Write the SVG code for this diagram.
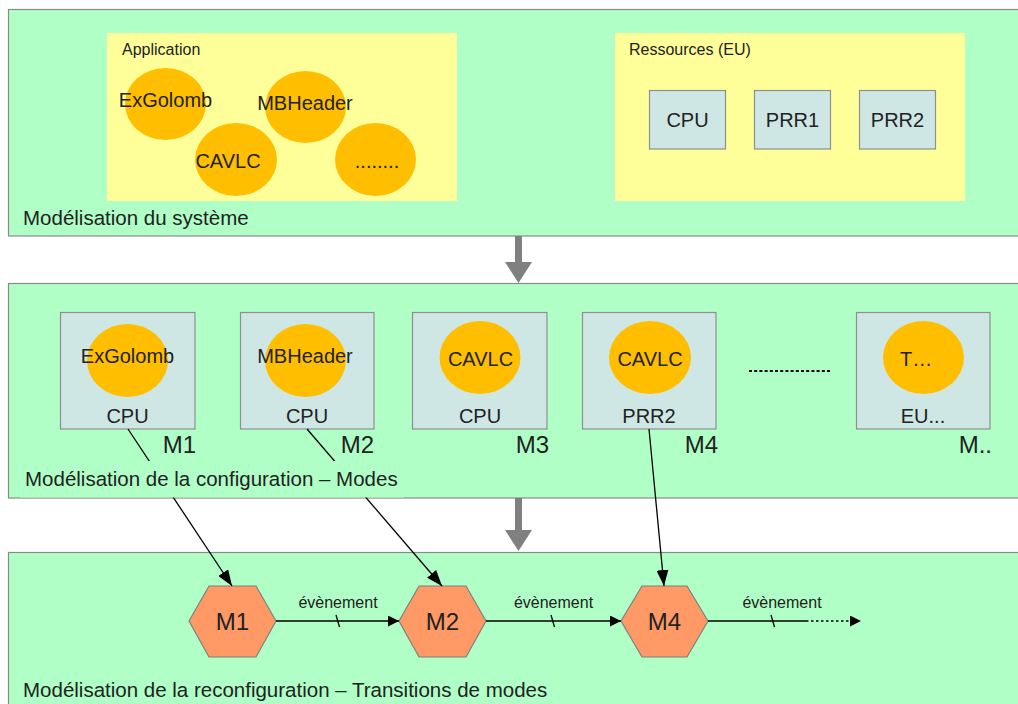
<svg xmlns="http://www.w3.org/2000/svg" width="1018" height="704" viewBox="0 0 1018 704">
<defs>
<style>
.panel{fill:#b0ffc6;stroke:#8a8a8a;stroke-width:1.2}
.zone{fill:#ffff99}
.eu{fill:#cfe7e4;stroke:#8f8f8f;stroke-width:1.2}
.task{fill:#ffbf00}
.hex{fill:#ff9966;stroke:#7f7f7f;stroke-width:1.2}
.t{font-family:"Liberation Sans",Arial,sans-serif;fill:#222}
.s16{font-size:16px}
.s20{font-size:20px}
.s205{font-size:20.5px}
.s24{font-size:24px}
.mid{text-anchor:middle}
.end{text-anchor:end}
.ln{stroke:#000;stroke-width:1.3;fill:none}
.big{fill:#808080}
</style>
<marker id="ah" viewBox="0 0 16 12" refX="16" refY="6" markerWidth="16" markerHeight="12" markerUnits="userSpaceOnUse" orient="auto">
<path d="M0,0 L16,6 L0,12 Z" fill="#000"/>
</marker>
<marker id="ahs" viewBox="0 0 11 11" refX="11" refY="5.5" markerWidth="11" markerHeight="11" markerUnits="userSpaceOnUse" orient="auto">
<path d="M0,0 L11,5.5 L0,11 Z" fill="#000"/>
</marker>
</defs>

<rect width="1018" height="704" fill="#ffffff"/>

<g id="panel-systeme">
<rect class="panel" x="8.5" y="9.5" width="1030" height="226.5"/>
<text class="t s205" x="23" y="225">Modélisation du système</text>
</g>

<g id="application">
<rect class="zone" x="107" y="33" width="350" height="168"/>
<text class="t s16" x="122" y="55">Application</text>
</g>
<g id="task-exgolomb">
<ellipse class="task" cx="165.5" cy="104" rx="40.5" ry="36"/>
<text class="t s20 mid" x="165.5" y="107">ExGolomb</text>
</g>
<g id="task-mbheader">
<ellipse class="task" cx="305.5" cy="107" rx="40.5" ry="36"/>
<text class="t s20 mid" x="305" y="110">MBHeader</text>
</g>
<g id="task-cavlc">
<ellipse class="task" cx="236" cy="159.5" rx="41" ry="36.5"/>
<text class="t s20 mid" x="228" y="168">CAVLC</text>
</g>
<g id="task-more">
<ellipse class="task" cx="375.5" cy="159.5" rx="40.5" ry="36.5"/>
<text class="t s20 mid" x="377" y="168">........</text>
</g>

<g id="ressources">
<rect class="zone" x="615" y="33" width="350" height="168"/>
<text class="t s16" x="629" y="55">Ressources (EU)</text>
</g>
<g id="eu-cpu">
<rect class="eu" x="649.5" y="90.5" width="76" height="58.5"/>
<text class="t s20 mid" x="687.5" y="127">CPU</text>
</g>
<g id="eu-prr1">
<rect class="eu" x="754.5" y="90.5" width="76" height="58.5"/>
<text class="t s20 mid" x="792.5" y="127">PRR1</text>
</g>
<g id="eu-prr2">
<rect class="eu" x="859.5" y="90.5" width="76" height="58.5"/>
<text class="t s20 mid" x="897.5" y="127">PRR2</text>
</g>

<g id="arrow-1">
<polygon class="big" points="515,236 522,236 522,262 532,262 518.5,283 505,262 515,262"/>
</g>

<g id="panel-configuration">
<rect class="panel" x="8.5" y="283.5" width="1030" height="214.5"/>
</g>

<g id="mode-m1">
<rect class="eu" x="60.5" y="312.5" width="134.5" height="116.5"/>
<ellipse class="task" cx="127.5" cy="360.5" rx="40.5" ry="36.5"/>
<text class="t s20 mid" x="127.5" y="363">ExGolomb</text>
<text class="t s20 mid" x="127.5" y="423">CPU</text>
<text class="t s24 end" x="196" y="453">M1</text>
</g>
<g id="mode-m2">
<rect class="eu" x="240.5" y="312.5" width="133.5" height="116.5"/>
<ellipse class="task" cx="305.5" cy="360.5" rx="40.5" ry="36.5"/>
<text class="t s20 mid" x="305" y="363">MBHeader</text>
<text class="t s20 mid" x="307" y="423">CPU</text>
<text class="t s24 end" x="374" y="453">M2</text>
</g>
<g id="mode-m3">
<rect class="eu" x="412.5" y="312.5" width="134.5" height="116.5"/>
<ellipse class="task" cx="480" cy="357.5" rx="40.5" ry="36.5"/>
<text class="t s20 mid" x="480.5" y="366">CAVLC</text>
<text class="t s20 mid" x="480" y="423">CPU</text>
<text class="t s24 end" x="549" y="453">M3</text>
</g>
<g id="mode-m4">
<rect class="eu" x="582.5" y="312.5" width="133.5" height="116.5"/>
<ellipse class="task" cx="650" cy="357.5" rx="41" ry="36.5"/>
<text class="t s20 mid" x="650" y="366">CAVLC</text>
<text class="t s20 mid" x="649" y="423">PRR2</text>
<text class="t s24 end" x="718" y="453">M4</text>
</g>
<g id="mode-dots">
<line x1="749" y1="371" x2="831" y2="371" stroke="#000" stroke-width="2" stroke-dasharray="3,2.2"/>
</g>
<g id="mode-mn">
<rect class="eu" x="856.5" y="312.5" width="133.5" height="116.5"/>
<ellipse class="task" cx="923.5" cy="357.5" rx="40.5" ry="36.5"/>
<text class="t s20" x="900" y="366">T…</text>
<text class="t s20 mid" x="923" y="423">EU...</text>
<text class="t s24 end" x="992" y="453">M..</text>
</g>

<g id="arrow-2">
<polygon class="big" points="515,498 522,498 522,530 532,530 518.5,551 505,530 515,530"/>
</g>

<g id="panel-reconfiguration">
<rect class="panel" x="8.5" y="552.5" width="1030" height="170"/>
<text class="t s205" x="23" y="697">Modélisation de la reconfiguration – Transitions de modes</text>
</g>

<g id="state-m1">
<polygon class="hex" points="189,621 209,586 256,586 276,621 256,657 209,657"/>
<text class="t s24 mid" x="232.5" y="630">M1</text>
</g>
<g id="state-m2">
<polygon class="hex" points="399,621 419,586 466,586 486,621 466,657 419,657"/>
<text class="t s24 mid" x="442.5" y="630">M2</text>
</g>
<g id="state-m4">
<polygon class="hex" points="621,621 642,586 687,586 708,621 687,657 642,657"/>
<text class="t s24 mid" x="664.5" y="630">M4</text>
</g>

<g id="connectors">
<line class="ln" x1="128" y1="429" x2="232" y2="586" marker-end="url(#ah)"/>
<line class="ln" x1="307" y1="429" x2="442" y2="586" marker-end="url(#ah)"/>
<line class="ln" x1="649" y1="429" x2="664" y2="586" marker-end="url(#ah)"/>
<line class="ln" x1="276" y1="621" x2="399" y2="621" marker-end="url(#ahs)"/>
<line class="ln" x1="336" y1="615" x2="339.5" y2="627"/>
<text class="t s16 mid" x="338" y="608">évènement</text>
<line class="ln" x1="486" y1="621" x2="621" y2="621" marker-end="url(#ahs)"/>
<line class="ln" x1="551" y1="615" x2="554.5" y2="627"/>
<text class="t s16 mid" x="553.5" y="608">évènement</text>
<line class="ln" x1="708" y1="621" x2="806" y2="621"/>
<line x1="806" y1="621" x2="861" y2="621" stroke="#000" stroke-width="1.6" stroke-dasharray="2.5,2.5" marker-end="url(#ahs)"/>
<line class="ln" x1="771" y1="615" x2="774.5" y2="627"/>
<text class="t s16 mid" x="782" y="608">évènement</text>
</g>

<g id="label-configuration">
<rect x="20" y="461" width="384" height="36.5" fill="#b0ffc6"/>
<text class="t s205" x="25" y="486">Modélisation de la configuration – Modes</text>
</g>
</svg>
